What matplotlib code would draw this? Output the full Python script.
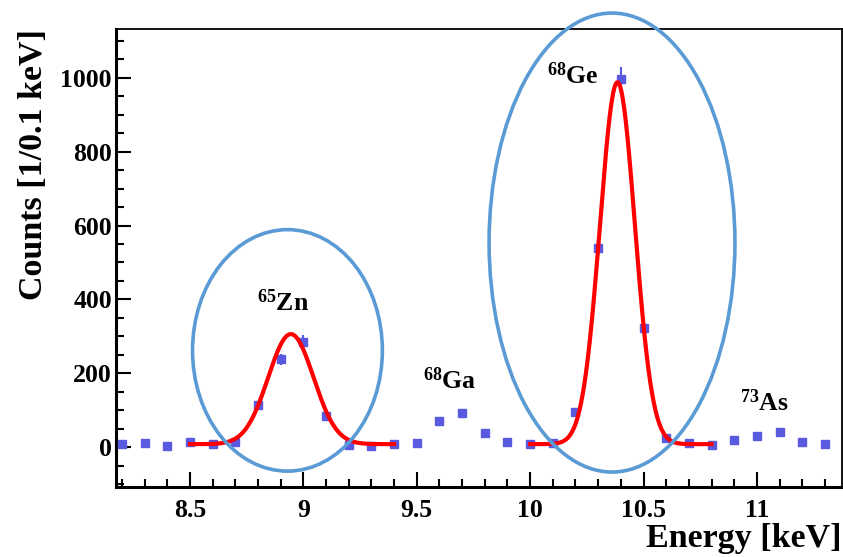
import numpy as np
import matplotlib
matplotlib.use("Agg")
import matplotlib.pyplot as plt
from matplotlib.patches import Ellipse
from matplotlib.ticker import MultipleLocator


plt.rcParams["font.family"] = ["Liberation Serif", "DejaVu Serif"]
plt.rcParams["font.weight"] = "bold"
plt.rcParams["mathtext.fontset"] = "custom"
plt.rcParams["mathtext.rm"] = "Liberation Serif:bold"
plt.rcParams["mathtext.it"] = "Liberation Serif:bold"
plt.rcParams["mathtext.bf"] = "Liberation Serif:bold"
plt.rcParams["mathtext.default"] = "rm"


#**********************************************data********************************************************************#
energy = [8.2, 8.3, 8.4, 8.5, 8.6, 8.7, 8.8, 8.9, 9.0, 9.1, 9.2, 9.3, 9.4, 9.5, 9.6, 9.7,
          9.8, 9.9, 10.0, 10.1, 10.2, 10.3, 10.4, 10.5, 10.6, 10.7, 10.8, 10.9, 11.0, 11.1, 11.2, 11.3]
counts = [8, 11, 3, 14, 8, 14, 114, 238, 286, 84, 5, 3, 8, 11, 70, 92,
          38, 14, 8, 11, 95, 540, 997, 322, 24, 11, 5, 19, 30, 41, 14, 8]

# gaussian + constant fits: (mean, sigma, amplitude, baseline, x_from, x_to)
zn_fit = (8.945, 0.10, 298, 8, 8.5, 9.4)
ge_fit = (10.385, 0.077, 980, 8, 10.0, 10.8)

peak_names = [r"$^{65}$Zn", r"$^{68}$Ga", r"$^{68}$Ge", r"$^{73}$As"]
peak_x = [8.91, 9.647, 10.186, 11.035]
peak_y = [392, 180, 1005, 120]

# circled regions: (x_center, y_center, width, height)
circles = [(8.93, 262, 0.837, 654), (10.361, 554, 1.084, 1243)]


#**********************************************plot********************************************************************#
def gauss(x, mean, sigma, amp, base):
    return base + amp * np.exp(-0.5 * ((x - mean) / sigma) ** 2)


fig = plt.figure(figsize=(8.43, 5.57), dpi=100)
ax = fig.add_axes([0.1376, 0.1257, 0.8612, 0.822])

marker_color = "#5a5ae0"
ax.errorbar(energy, counts, yerr=np.sqrt(counts), fmt="s", color=marker_color,
            markersize=5.5, elinewidth=1.5, capsize=0, zorder=3)

for fit in (zn_fit, ge_fit):
    xs = np.linspace(fit[4], fit[5], 400)
    ax.plot(xs, gauss(xs, fit[0], fit[1], fit[2], fit[3]), color="#ff0000", lw=3, zorder=4)

for c in circles:
    ax.add_patch(Ellipse((c[0], c[1]), c[2], c[3], fill=False, ec="#5b9bd5", lw=2.6,
                         clip_on=False, zorder=5))

for name, x, y in zip(peak_names, peak_x, peak_y):
    ax.text(x, y, name, fontsize=18.5, fontweight="bold", ha="center", va="center")

ax.set_xlim(8.174, 11.375)
ax.set_ylim(-108, 1132)

ax.xaxis.set_major_locator(MultipleLocator(0.5))
ax.xaxis.set_minor_locator(MultipleLocator(0.1))
ax.yaxis.set_major_locator(MultipleLocator(200))
ax.yaxis.set_minor_locator(MultipleLocator(50))
ax.xaxis.set_major_formatter(plt.FuncFormatter(lambda v, p: "%g" % v))

ax.tick_params(which="both", direction="in", top=False, right=False, width=1.5, labelsize=18.5)
ax.tick_params(which="major", length=11)
ax.tick_params(which="minor", length=6)
ax.tick_params(axis="x", pad=9)
ax.tick_params(axis="y", pad=3)

for s in ["left", "bottom"]:
    ax.spines[s].set_linewidth(2.2)
for s in ["top", "right"]:
    ax.spines[s].set_linewidth(1.3)

ax.set_xlabel("Energy [keV]", fontsize=24.5, fontweight="bold", loc="right")
ax.xaxis.set_label_coords(1.0, -0.078)
ax.set_ylabel("Counts [1/0.1 keV]", fontsize=24.5, fontweight="bold", loc="top")
ax.yaxis.set_label_coords(-0.092, 1.0)

fig.savefig("out.png", dpi=100)
